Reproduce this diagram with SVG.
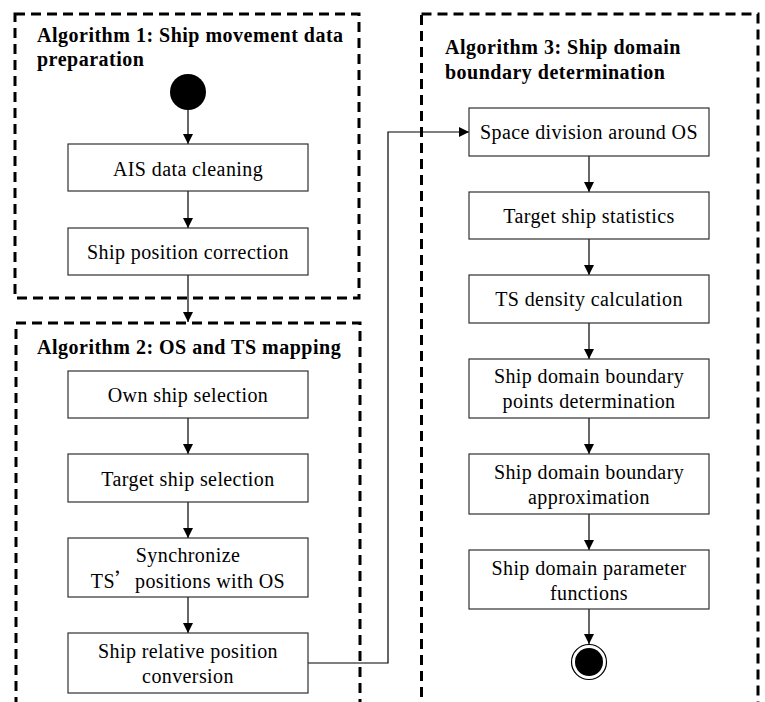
<svg xmlns="http://www.w3.org/2000/svg" width="765" height="702" viewBox="0 0 765 702">
<style>
.bg{fill:#ffffff}
.group{fill:none;stroke:#000;stroke-width:3;stroke-dasharray:10 6}
.box{fill:#fff;stroke:#303030;stroke-width:1.2}
.title{font-family:"Liberation Serif","Times New Roman",serif;font-size:20px;font-weight:bold;letter-spacing:0.5px;fill:#000}
.lbl{font-family:"Liberation Serif","Times New Roman",serif;font-size:20px;letter-spacing:0.4px;fill:#000;text-anchor:middle}
.cjk{font-family:"Noto Sans CJK SC","Liberation Serif",serif;letter-spacing:0}
.conn{fill:none;stroke:#000;stroke-width:1.2}
</style>
<defs>
<marker id="arr" viewBox="0 0 10 10" refX="10" refY="5" markerWidth="10" markerHeight="10" markerUnits="userSpaceOnUse" orient="auto">
<path d="M0,0 L10,5 L0,10 Z" fill="#000"/>
</marker>
</defs>
<rect class="bg" x="0" y="0" width="765" height="702"/>

<g id="algorithm1">
<rect class="group" x="15" y="14" width="344" height="284"/>
<text class="title" x="37" y="42">Algorithm 1: Ship movement data</text>
<text class="title" x="37" y="66">preparation</text>
</g>
<g id="algorithm2">
<rect class="group" x="16" y="323" width="344" height="400"/>
<text class="title" x="37" y="354">Algorithm 2: OS and TS mapping</text>
</g>
<g id="algorithm3">
<rect class="group" x="421.5" y="14" width="336.5" height="709"/>
<text class="title" x="445" y="54">Algorithm 3: Ship domain</text>
<text class="title" x="445" y="79">boundary determination</text>
</g>

<g id="connectors">
<line class="conn" x1="188" y1="110" x2="188" y2="144" marker-end="url(#arr)"/>
<line class="conn" x1="188" y1="191" x2="188" y2="228" marker-end="url(#arr)"/>
<line class="conn" x1="188" y1="275" x2="188" y2="322" marker-end="url(#arr)"/>
<line class="conn" x1="188" y1="418" x2="188" y2="454" marker-end="url(#arr)"/>
<line class="conn" x1="188" y1="502" x2="188" y2="538" marker-end="url(#arr)"/>
<line class="conn" x1="188" y1="597" x2="188" y2="633" marker-end="url(#arr)"/>
<path class="conn" d="M308,663 H388 V132 H469" marker-end="url(#arr)"/>
<line class="conn" x1="589" y1="156" x2="589" y2="192" marker-end="url(#arr)"/>
<line class="conn" x1="589" y1="239" x2="589" y2="275" marker-end="url(#arr)"/>
<line class="conn" x1="589" y1="323" x2="589" y2="359" marker-end="url(#arr)"/>
<line class="conn" x1="589" y1="418" x2="589" y2="454" marker-end="url(#arr)"/>
<line class="conn" x1="589" y1="514" x2="589" y2="550" marker-end="url(#arr)"/>
<line class="conn" x1="589" y1="609" x2="589" y2="644" marker-end="url(#arr)"/>
</g>

<g id="start">
<circle cx="188" cy="92" r="18" fill="#000"/>
</g>
<g id="ais-cleaning">
<rect class="box" x="68" y="144" width="240" height="47"/>
<text class="lbl" x="188" y="176">AIS data cleaning</text>
</g>
<g id="position-correction">
<rect class="box" x="68" y="228" width="240" height="47"/>
<text class="lbl" x="188" y="259">Ship position correction</text>
</g>
<g id="own-ship">
<rect class="box" x="68" y="371" width="240" height="47"/>
<text class="lbl" x="188" y="402">Own ship selection</text>
</g>
<g id="target-ship">
<rect class="box" x="68" y="454" width="240" height="48"/>
<text class="lbl" x="188" y="486">Target ship selection</text>
</g>
<g id="synchronize">
<rect class="box" x="68" y="538" width="240" height="59"/>
<text class="lbl" x="188" y="562">Synchronize</text>
<text class="lbl" x="188" y="588">TS<tspan class="cjk">’</tspan>positions with OS</text>
</g>
<g id="relative-position">
<rect class="box" x="68" y="633" width="240" height="60"/>
<text class="lbl" x="188" y="658">Ship relative position</text>
<text class="lbl" x="188" y="683">conversion</text>
</g>
<g id="space-division">
<rect class="box" x="469" y="108" width="240" height="48"/>
<text class="lbl" x="589" y="139">Space division around OS</text>
</g>
<g id="ts-statistics">
<rect class="box" x="469" y="192" width="240" height="47"/>
<text class="lbl" x="589" y="223">Target ship statistics</text>
</g>
<g id="density">
<rect class="box" x="469" y="275" width="240" height="48"/>
<text class="lbl" x="589" y="306">TS density calculation</text>
</g>
<g id="boundary-points">
<rect class="box" x="469" y="359" width="240" height="59"/>
<text class="lbl" x="589" y="383">Ship domain boundary</text>
<text class="lbl" x="589" y="408">points determination</text>
</g>
<g id="boundary-approx">
<rect class="box" x="469" y="454" width="240" height="60"/>
<text class="lbl" x="589" y="479">Ship domain boundary</text>
<text class="lbl" x="589" y="504">approximation</text>
</g>
<g id="parameter-functions">
<rect class="box" x="469" y="550" width="240" height="59"/>
<text class="lbl" x="589" y="575">Ship domain parameter</text>
<text class="lbl" x="589" y="600">functions</text>
</g>
<g id="end">
<circle cx="589" cy="662" r="17.5" fill="#fff" stroke="#000" stroke-width="1.2"/>
<circle cx="589" cy="662" r="14" fill="#000"/>
</g>
</svg>
